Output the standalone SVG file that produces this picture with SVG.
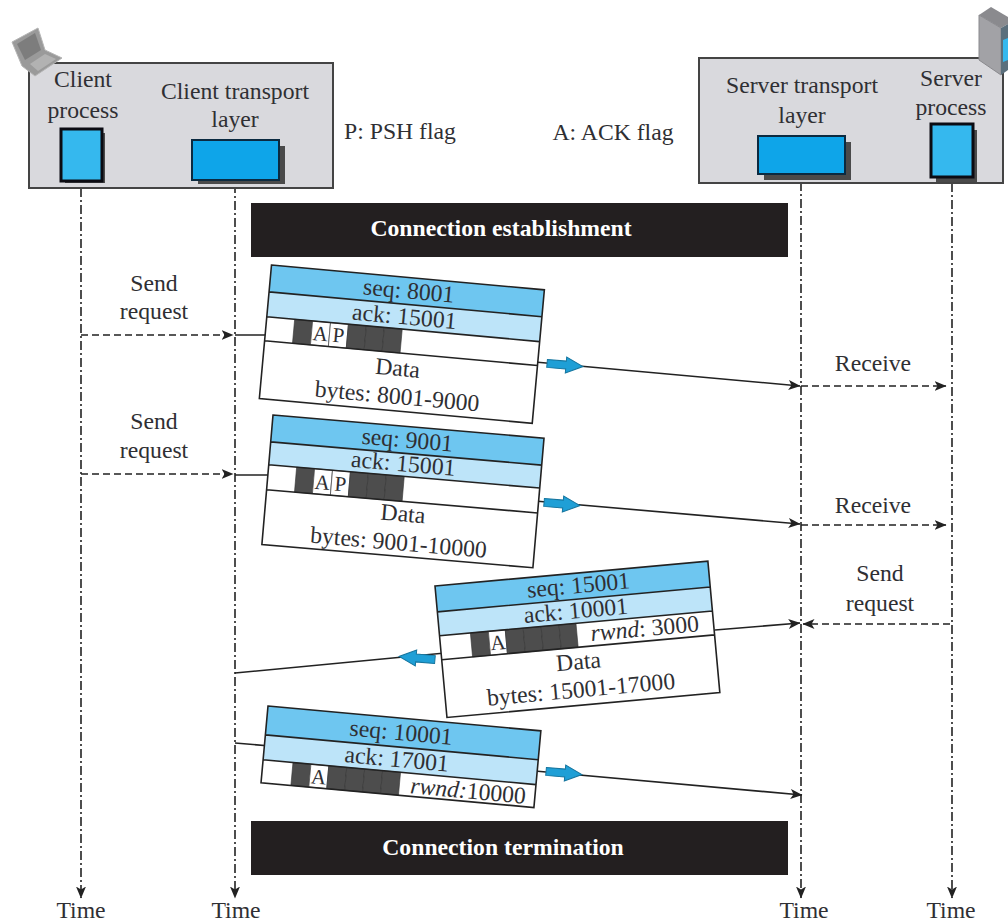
<svg xmlns="http://www.w3.org/2000/svg" width="1008" height="923" viewBox="0 0 1008 923">
<style>
text{font-family:"Liberation Serif","Times New Roman",serif;font-size:23.7px;fill:#2f2f33;text-anchor:middle}
.w{fill:#fff;font-weight:bold}
.box{fill:#d9d9dd;stroke:#444;stroke-width:2}
.sh{fill:#4a4a4a}
.pb{fill:#35b8ee;stroke:#0b0b12;stroke-width:3}
.tb{fill:#0ea5e9;stroke:#0b2a40;stroke-width:2}
.sq{fill:#6ec6f0}.ak{fill:#bde4f9}.wh{fill:#fff}
.o{fill:none;stroke:#222;stroke-width:1.6}
.d{fill:#4d4d4d;stroke:#333;stroke-width:.6}
.c{fill:#fff;stroke:#555;stroke-width:.8}
.s{stroke:#222;stroke-width:1.6;fill:none}
.da{stroke-dasharray:7 4}
.v{stroke-dasharray:9 3 2 3}
.f{font-size:21px}
</style>
<defs>
<marker id="h" viewBox="0 0 12 10" refX="11.5" refY="5" markerWidth="12" markerHeight="10" markerUnits="userSpaceOnUse" orient="auto"><path d="M0,0L12,5L0,10L3,5Z" fill="#222"/></marker>
<path id="ba" d="M-18,-4L1,-4L1,-8L18,0L1,8L1,4L-18,4Z" fill="#1f9fd6" stroke="#17769f" stroke-width="1"/>
</defs>
<rect width="1008" height="923" fill="#fff"/>
<g id="connectors">
<path class="s v" marker-end="url(#h)" d="M81,188V898"/>
<path class="s v" marker-end="url(#h)" d="M235,184V898"/>
<path class="s v" marker-end="url(#h)" d="M801,182V898"/>
<path class="s v" marker-end="url(#h)" d="M952,183V898"/>
<path class="s da" marker-end="url(#h)" d="M81,335H233"/>
<path class="s da" marker-end="url(#h)" d="M81,474H233"/>
<path class="s" d="M235,335L270,335"/>
<path class="s" marker-end="url(#h)" d="M535,362L800,386"/>
<path class="s" d="M235,475L270,475"/>
<path class="s" marker-end="url(#h)" d="M535,501L800,524"/>
<path class="s da" marker-end="url(#h)" d="M801,386H946"/>
<path class="s da" marker-end="url(#h)" d="M801,525H946"/>
<path class="s da" marker-end="url(#h)" d="M950,624H803"/>
<path class="s" marker-end="url(#h)" d="M715,630L800,623"/>
<path class="s" d="M445,653L235,673"/>
<path class="s" d="M235,743L270,746"/>
<path class="s" marker-end="url(#h)" d="M535,771L802,795"/>
<use href="#ba" transform="translate(565,365) rotate(5)"/>
<use href="#ba" transform="translate(562,504) rotate(5)"/>
<use href="#ba" transform="translate(417,658) rotate(185)"/>
<use href="#ba" transform="translate(564,773) rotate(5)"/>
</g>
<g id="client-box">
<rect class="box" x="29" y="63" width="304" height="125"/>
<path d="M12,42L38,28L45,50L62,58L35,76L22,66Z" fill="#9a9a9a" stroke="#b5b5b5"/>
<path d="M17,44L35,33L41,50L25,60Z" fill="#7d7d7d"/>
<path d="M30,64L45,54L56,59L38,71Z" fill="#b2b2b2"/>
<text x="83" y="87">Client</text><text x="83" y="118">process</text>
<text x="235" y="99">Client transport</text><text x="235" y="127">layer</text>
<rect class="sh" x="65" y="133" width="40" height="50"/>
<rect class="pb" x="61" y="129" width="41" height="52"/>
<rect class="sh" x="198" y="146" width="87" height="38"/>
<rect class="tb" x="192" y="140" width="87" height="40"/>
</g>
<g id="server-box">
<rect class="box" x="699" y="58" width="304" height="125"/>
<path d="M979,15L1001,28V75L979,60Z" fill="#a2a2a6" stroke="#8a8a8e"/>
<path d="M979,15L991,7L1008,17V24L1001,28Z" fill="#8a8a8e"/>
<path d="M1001,28L1008,24V70L1001,75Z" fill="#5b6f7c"/>
<path d="M1003,40L1008,38V60L1003,62Z" fill="#35b8ee"/>
<text x="802" y="93">Server transport</text><text x="802" y="123">layer</text>
<text x="951" y="86">Server</text><text x="951" y="115">process</text>
<rect class="sh" x="764" y="142" width="87" height="38"/>
<rect class="tb" x="758" y="136" width="87" height="38"/>
<rect class="sh" x="936" y="130" width="41" height="52"/>
<rect class="pb" x="931" y="124" width="42" height="53"/>
</g>
<g id="flag-legend"><text x="400" y="139">P: PSH flag</text><text x="613" y="140">A: ACK flag</text></g>
<g id="connection-establishment"><rect x="251" y="203" width="537" height="54" fill="#231f20"/><text class="w" x="501" y="236">Connection establishment</text></g>
<g id="connection-termination"><rect x="251" y="821" width="537" height="54" fill="#231f20"/><text class="w" x="503" y="855">Connection termination</text></g>
<g id="labels">
<text x="154" y="291">Send</text><text x="154" y="319">request</text>
<text x="154" y="429">Send</text><text x="154" y="458">request</text>
<text x="873" y="371">Receive</text><text x="873" y="513">Receive</text>
<text x="880" y="581">Send</text><text x="880" y="611">request</text>
<text x="81" y="918">Time</text><text x="236" y="918">Time</text><text x="804" y="918">Time</text><text x="951" y="918">Time</text>
</g>
<g id="segment-1" transform="translate(271.5,265) rotate(5.2)">
<rect class="sq" width="274" height="27"/><rect class="ak" y="27" width="274" height="25"/><rect class="wh" y="52" width="274" height="82"/>
<rect class="d" x="28" y="52" width="18" height="24"/><rect class="c" x="46" y="52" width="18" height="24"/><rect class="c" x="64" y="52" width="18" height="24"/><rect class="d" x="82" y="52" width="18" height="24"/><rect class="d" x="100" y="52" width="18" height="24"/><rect class="d" x="118" y="52" width="18" height="24"/>
<path class="o" d="M0,0H274V134H0ZM0,27H274M0,52H274M0,76H274"/>
<text x="139" y="21">seq: 8001</text><text x="137" y="47">ack: 15001</text><text class="f" x="55" y="71">A</text><text class="f" x="73" y="71">P</text>
<text x="135" y="99">Data</text><text x="137" y="127">bytes: 8001-9000</text>
</g>
<g id="segment-2" transform="translate(273,415) rotate(4.9)">
<rect class="sq" width="272" height="27"/><rect class="ak" y="27" width="272" height="23"/><rect class="wh" y="50" width="272" height="80"/>
<rect class="d" x="28" y="50" width="18" height="25"/><rect class="c" x="46" y="50" width="18" height="25"/><rect class="c" x="64" y="50" width="18" height="25"/><rect class="d" x="82" y="50" width="18" height="25"/><rect class="d" x="100" y="50" width="18" height="25"/><rect class="d" x="118" y="50" width="18" height="25"/>
<path class="o" d="M0,0H272V130H0ZM0,27H272M0,50H272M0,75H272"/>
<text x="136" y="21">seq: 9001</text><text x="134" y="45">ack: 15001</text><text class="f" x="55" y="70">A</text><text class="f" x="73" y="70">P</text>
<text x="138" y="95">Data</text><text x="136" y="124">bytes: 9001-10000</text>
</g>
<g id="segment-3" transform="translate(435,586) rotate(-5.2)">
<rect class="sq" width="274" height="26"/><rect class="ak" y="26" width="274" height="24"/><rect class="wh" y="50" width="274" height="82"/>
<rect class="d" x="31" y="50" width="18" height="24"/><rect class="c" x="49" y="50" width="17" height="24"/><rect class="d" x="66" y="50" width="18" height="24"/><rect class="d" x="84" y="50" width="18" height="24"/><rect class="d" x="102" y="50" width="18" height="24"/><rect class="d" x="120" y="50" width="17" height="24"/>
<path class="o" d="M0,0H274V132H0ZM0,26H274M0,50H274M0,74H274"/>
<text x="143" y="20">seq: 15001</text><text x="138" y="45">ack: 10001</text><text class="f" x="57.5" y="69">A</text>
<text x="205" y="69"><tspan font-style="italic">rwnd</tspan>: 3000</text>
<text x="136" y="96">Data</text><text x="136" y="124">bytes: 15001-17000</text>
</g>
<g id="segment-4" transform="translate(268,706) rotate(5.2)">
<rect class="sq" width="274" height="29"/><rect class="ak" y="29" width="274" height="25"/><rect class="wh" y="54" width="274" height="23"/>
<rect class="d" x="30" y="54" width="18" height="23"/><rect class="c" x="48" y="54" width="18" height="23"/><rect class="d" x="66" y="54" width="18" height="23"/><rect class="d" x="84" y="54" width="18" height="23"/><rect class="d" x="102" y="54" width="18" height="23"/><rect class="d" x="120" y="54" width="18" height="23"/>
<path class="o" d="M0,0H274V77H0ZM0,29H274M0,54H274"/>
<text x="135" y="22">seq: 10001</text><text x="133" y="49">ack: 17001</text><text class="f" x="57" y="73">A</text>
<text x="207" y="74"><tspan font-style="italic">rwnd:</tspan>10000</text>
</g>
</svg>
